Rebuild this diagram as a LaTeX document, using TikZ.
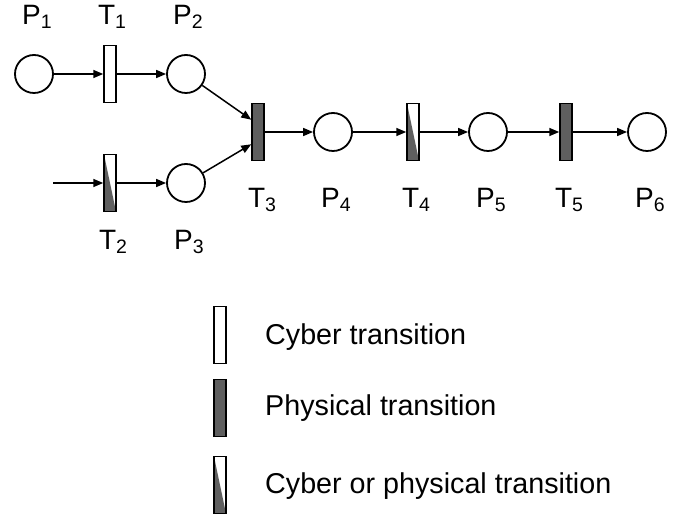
\documentclass[tikz,border=0pt]{standalone}
\usepackage{fontspec}
\setmainfont{Liberation Sans}
\usetikzlibrary{calc,arrows.meta}
\definecolor{physgray}{RGB}{95,95,95}
\newcommand{\idx}[1]{\raisebox{-4pt}{\fontsize{19.5}{20}\selectfont #1}}
\tikzset{
  place/.style={circle,draw,line width=1.8pt,minimum size=38pt,inner sep=0pt},
  trans/.style={rectangle,draw,line width=1.5pt,minimum width=12pt,minimum height=57pt,inner sep=0pt},
  cyber/.style={trans,fill=white},
  physical/.style={trans,fill=physgray},
  mixed/.style={trans,fill=white,path picture={\fill[physgray] (path picture bounding box.north west) -- (path picture bounding box.south west) -- (path picture bounding box.south east) -- cycle;}},
  arc/.style={-{Triangle[length=10pt,width=8pt]},line width=1.5pt},
  lbl/.style={anchor=base,inner sep=0pt,font=\fontsize{28}{32}\selectfont},
  legtext/.style={anchor=west,inner sep=0pt,font=\fontsize{28.7}{32}\selectfont}
}

\begin{document}
\begin{tikzpicture}[x=1pt,y=-1pt]
	\useasboundingbox (0,0) rectangle (681,518);
	
	%%%%% NET %%%%%
	\node[place] (P1) at (34,74) {};
	\node[cyber] (T1) at (110,74) {};
	\node[place] (P2) at (186,74) {};
	
	\coordinate (in) at (53,183);
	\node[mixed] (T2) at (110,183) {};
	\node[place] (P3) at (186,183) {};
	
	\node[physical] (T3) at (258,132) {};
	\node[place] (P4) at (333,132) {};
	\node[mixed] (T4) at (413,132) {};
	\node[place] (P5) at (488,132) {};
	\node[physical] (T5) at (566,132) {};
	\node[place] (P6) at (647,132) {};
	
	\draw[arc] (P1) -- (T1);
	\draw[arc] (T1) -- (P2);
	\draw[arc] (in) -- (T2);
	\draw[arc] (T2) -- (P3);
	\draw[arc] (P2) -- ($(T3.north west)!0.29!(T3.south west)$);
	\draw[arc] (P3) -- ($(T3.north west)!0.71!(T3.south west)$);
	\draw[arc] (T3) -- (P4);
	\draw[arc] (P4) -- (T4);
	\draw[arc] (T4) -- (P5);
	\draw[arc] (P5) -- (T5);
	\draw[arc] (T5) -- (P6);
	
	%%%%% LABELS %%%%%
	\node[lbl] (lP1) at (37,25) {P\idx{1}};
	\node[lbl] (lT1) at (112,25) {T\idx{1}};
	\node[lbl] (lP2) at (188,25) {P\idx{2}};
	\node[lbl] (lT2) at (113,250) {T\idx{2}};
	\node[lbl] (lP3) at (189,250) {P\idx{3}};
	\node[lbl] (lT3) at (262,208) {T\idx{3}};
	\node[lbl] (lP4) at (336,208) {P\idx{4}};
	\node[lbl] (lT4) at (416,208) {T\idx{4}};
	\node[lbl] (lP5) at (491,208) {P\idx{5}};
	\node[lbl] (lT5) at (569,208) {T\idx{5}};
	\node[lbl] (lP6) at (650,208) {P\idx{6}};
	
	%%%%% LEGEND %%%%%
	\node[cyber] (keyC) at (220,335) {};
	\node[physical] (keyP) at (220,408) {};
	\node[mixed] (keyM) at (220,485) {};
	\node[legtext] (txtC) at (265,337) {Cyber transition};
	\node[legtext] (txtP) at (265,408) {Physical transition};
	\node[legtext] (txtM) at (265,486) {Cyber or physical transition};
\end{tikzpicture}
\end{document}
